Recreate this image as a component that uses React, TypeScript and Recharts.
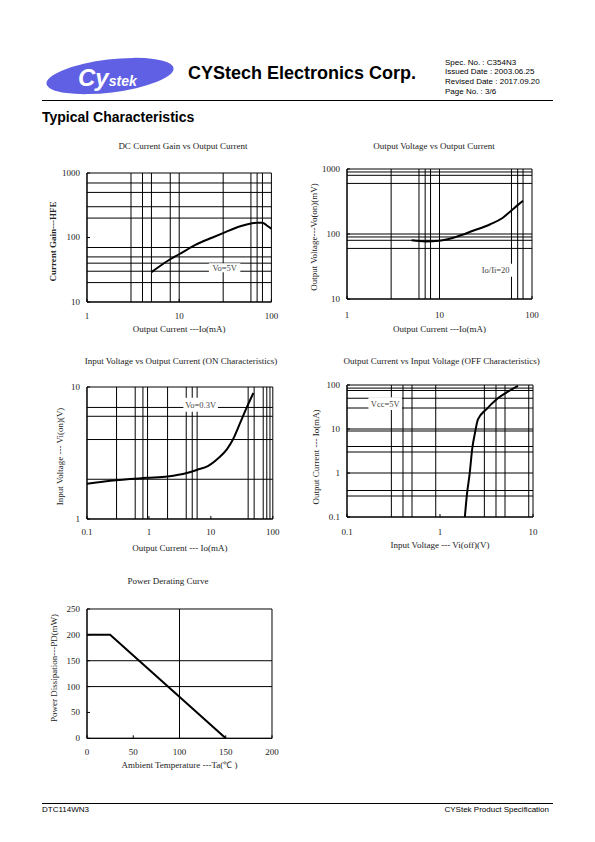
import React from "react";
import { LineChart, Line, XAxis, YAxis, ReferenceLine, ReferenceArea, Label } from "recharts";

const INK = "#000";
const TXT = "#222";
const SERIF = "'Liberation Serif', 'Times New Roman', serif";
const SANS = "'Liberation Sans', Arial, sans-serif";
const FS = 9;

// DC current gain vs output current (Vo=5V)
const hfeIo = [5, 8, 10, 15, 23, 30, 45, 60, 70, 80, 90, 100];
const hfeVal = [29, 46, 55, 77, 100, 117, 148, 165, 170, 170, 152, 137];
const hfeGridX = [3, 4, 5, 8, 10, 30, 60, 70, 80];
const hfeGridY = [20, 30, 40, 50, 70, 200, 300, 500, 700];

// output voltage vs output current (Io/Ii=20)
const voIo = [5, 7, 10, 15, 23, 35, 48, 60, 70, 80];
const voVal = [80, 77, 79, 90, 112, 140, 176, 230, 278, 325];
const voGridX = [3, 6, 7, 8, 10, 60, 70, 80];
const voGridY = [60, 80, 90, 100, 600, 800, 900];

// input voltage vs output current, ON (Vo=0.3V)
const onIo = [0.1, 0.24, 0.93, 2, 4.1, 6, 9.1, 13.3, 18, 22.6, 29.7, 38, 48.6];
const onVi = [1.85, 1.95, 2.05, 2.1, 2.23, 2.36, 2.53, 2.9, 3.35, 3.98, 5.34, 7.0, 9.0];
const onGridX = [0.3, 0.6, 0.8, 0.95, 2, 4, 5, 6, 40, 50, 70, 80, 90];
const onGridY = [2, 4, 6, 7];

// output current vs input voltage, OFF (Vcc=5V)
const offVi = [1.85, 1.95, 2.08, 2.23, 2.36, 2.56, 3.15, 4.04, 5.17, 6.9];
const offIo = [0.1, 0.33, 0.93, 3.8, 7.5, 16.5, 28, 47, 67, 95];
const offGridX = [0.3, 0.4, 0.5, 0.9, 3, 4, 5, 9];
const offGridY = [0.3, 0.4, 1, 3, 4, 9, 10, 30, 50, 75, 85];

// power derating
const pdTa = [0, 25, 150];
const pdVal = [200, 200, 0];
const pdGridX = [100];
const pdGridY = [100, 150];

const zip = (xs: number[], ys: number[]) => xs.map((x, i) => ({ x, y: ys[i] }));

type Note = { text: string; x1: number; x2: number; y1: number; y2: number };

interface PanelProps {
  plot: { x: number; y: number; w: number; h: number };
  data: { x: number; y: number }[];
  log: boolean;
  xDomain: [number, number];
  yDomain: [number, number];
  xTicks: number[];
  yTicks: number[];
  gridX: number[];
  gridY: number[];
  xLabel: string;
  yLabel: string;
  xLabelDy: number;
  yLabelDx: number;
  yLabelDy: number;
  tickDy: number;
  yLabelBold?: boolean;
  note?: Note;
  curve?: "monotone" | "linear";
}

function Panel(p: PanelProps) {
  const W = p.plot.w + 70;
  const H = p.plot.h + 50;
  const margin = { top: 10, right: 10, left: 0, bottom: 0 };
  const scale = p.log ? "log" : "linear";
  const bottomTick = (t: any) => (
    <g>
      <line x1={t.x} x2={t.x} y1={t.y} y2={t.y - 3} stroke={INK} />
      <text x={t.x} y={t.y + p.tickDy} textAnchor="middle" fontSize={FS} fill={TXT} fontFamily={SERIF}>
        {t.payload.value}
      </text>
    </g>
  );
  const leftTick = (t: any) => (
    <g>
      <line x1={t.x} x2={t.x + 3} y1={t.y} y2={t.y} stroke={INK} />
      <text x={t.x - 7} y={t.y + 3} textAnchor="end" fontSize={FS} fill={TXT} fontFamily={SERIF}>
        {t.payload.value}
      </text>
    </g>
  );
  const pos = { position: "absolute" as const, left: p.plot.x - 60, top: p.plot.y - 10 };
  return (
    <>
      <div style={pos}>
        <LineChart width={W} height={H} data={p.data} margin={margin}>
          <XAxis
            dataKey="x"
            type="number"
            scale={scale}
            domain={p.xDomain}
            ticks={p.xTicks}
            allowDataOverflow
            height={40}
            tickSize={0}
            tickMargin={0}
            tickLine={false}
            axisLine={{ stroke: INK }}
            tick={bottomTick}
            interval={0}
          >
            <Label value={p.xLabel} position="center" dy={p.xLabelDy} fontSize={FS} fill={TXT} fontFamily={SERIF} />
          </XAxis>
          <YAxis
            type="number"
            scale={scale}
            domain={p.yDomain}
            ticks={p.yTicks}
            allowDataOverflow
            width={60}
            tickSize={0}
            tickMargin={0}
            tickLine={false}
            axisLine={{ stroke: INK }}
            tick={leftTick}
            interval={0}
          >
            <Label
              value={p.yLabel}
              position="center"
              angle={-90}
              dx={p.yLabelDx}
              dy={p.yLabelDy}
              fontSize={FS}
              fontWeight={p.yLabelBold ? "bold" : "normal"}
              fill={TXT}
              fontFamily={SERIF}
            />
          </YAxis>
          {p.gridX.map((v) => (
            <ReferenceLine key={"gx" + v} x={v} stroke={INK} strokeWidth={1} />
          ))}
          {p.gridY.map((v) => (
            <ReferenceLine key={"gy" + v} y={v} stroke={INK} strokeWidth={1} />
          ))}
          <ReferenceArea
            x1={p.xDomain[0]}
            x2={p.xDomain[1]}
            y1={p.yDomain[0]}
            y2={p.yDomain[1]}
            fill="none"
            stroke={INK}
            strokeWidth={1}
          />
          <Line
            dataKey="y"
            type={p.curve ?? "monotone"}
            stroke={INK}
            strokeWidth={2}
            dot={false}
            isAnimationActive={false}
          />
        </LineChart>
      </div>
      {p.note && (
        // same axes, laid over the panel, so the white note box hides the grid lines under it
        <div style={pos}>
          <LineChart width={W} height={H} data={p.data} margin={margin}>
            <XAxis
              dataKey="x"
              type="number"
              scale={scale}
              domain={p.xDomain}
              allowDataOverflow
              height={40}
              tick={false}
              tickLine={false}
              axisLine={false}
            />
            <YAxis
              type="number"
              scale={scale}
              domain={p.yDomain}
              allowDataOverflow
              width={60}
              tick={false}
              tickLine={false}
              axisLine={false}
            />
            <ReferenceArea
              x1={p.note.x1}
              x2={p.note.x2}
              y1={p.note.y1}
              y2={p.note.y2}
              fill="#fff"
              fillOpacity={1}
              stroke="none"
            >
              <Label value={p.note.text} position="center" fontSize={8.5} fill="#444" fontFamily={SERIF} />
            </ReferenceArea>
          </LineChart>
        </div>
      )}
    </>
  );
}

function Title({ text, cx, cy }: { text: string; cx: number; cy: number }) {
  return (
    <div
      style={{
        position: "absolute",
        left: cx - 150,
        top: cy - 5,
        width: 300,
        textAlign: "center",
        fontFamily: SERIF,
        fontSize: FS,
        lineHeight: "10px",
        color: "#222",
        whiteSpace: "nowrap",
      }}
    >
      {text}
    </div>
  );
}

export default function App() {
  return (
    <div
      style={{
        position: "absolute",
        left: 0,
        top: 0,
        width: 595,
        height: 842,
        background: "#fff",
        overflow: "hidden",
        fontFamily: SERIF,
      }}
    >
      {/* header */}
      <svg style={{ position: "absolute", left: 40, top: 54 }} width={145} height={44}>
        <ellipse cx={70} cy={22} rx={64} ry={16.5} fill="#6060e4" transform="rotate(-7 70 22)" />
        <text x={38} y={32} fill="#fff" fontFamily={SANS} fontWeight="bold" fontStyle="italic">
          <tspan fontSize={24}>Cy</tspan>
          <tspan fontSize={14}>stek</tspan>
        </text>
      </svg>
      <div
        style={{
          position: "absolute",
          left: 188,
          top: 64,
          fontFamily: SANS,
          fontWeight: "bold",
          fontSize: 18,
          lineHeight: "18px",
          whiteSpace: "nowrap",
        }}
      >
        CYStech Electronics Corp.
      </div>
      <div
        style={{
          position: "absolute",
          left: 445,
          top: 57.5,
          fontFamily: SANS,
          fontSize: 8,
          lineHeight: "9.7px",
          whiteSpace: "nowrap",
        }}
      >
        <div>Spec. No. : C354N3</div>
        <div>Issued Date : 2003.06.25</div>
        <div>Revised Date : 2017.09.20</div>
        <div>Page No. : 3/6</div>
      </div>
      <div style={{ position: "absolute", left: 42, top: 99.5, width: 511, height: 1.5, background: "#000" }} />
      <div
        style={{
          position: "absolute",
          left: 42,
          top: 110,
          fontFamily: SANS,
          fontWeight: "bold",
          fontSize: 14,
          lineHeight: "14px",
          whiteSpace: "nowrap",
        }}
      >
        Typical Characteristics
      </div>

      <Title text="DC Current Gain vs Output Current" cx={183} cy={146} />
      <Panel
        plot={{ x: 87.3, y: 173.3, w: 184.4, h: 129 }}
        data={zip(hfeIo, hfeVal)}
        log
        xDomain={[1, 100]}
        yDomain={[10, 1000]}
        xTicks={[1, 10, 100]}
        yTicks={[10, 100, 1000]}
        gridX={hfeGridX}
        gridY={hfeGridY}
        xLabel="Output  Current ---Io(mA)"
        yLabel="Current Gain---HFE"
        yLabelBold
        xLabelDy={7}
        yLabelDx={-4.6}
        yLabelDy={4}
        tickDy={17.3}
        note={{ text: "Vo=5V", x1: 21, x2: 46, y1: 29, y2: 40 }}
      />

      <Title text="Output Voltage vs Output Current" cx={434} cy={146} />
      <Panel
        plot={{ x: 347.3, y: 169.3, w: 185, h: 130 }}
        data={zip(voIo, voVal)}
        log
        xDomain={[1, 100]}
        yDomain={[10, 1000]}
        xTicks={[1, 10, 100]}
        yTicks={[10, 100, 1000]}
        gridX={voGridX}
        gridY={voGridY}
        xLabel="Output Current ---Io(mA)"
        yLabel="Output Voltage---Vo(on)(mV)"
        xLabelDy={10}
        yLabelDx={-3.3}
        yLabelDy={3}
        tickDy={19}
        note={{ text: "Io/Ii=20", x1: 26, x2: 63, y1: 22, y2: 35 }}
      />

      <Title text="Input Voltage vs Output Current (ON Characteristics)" cx={181} cy={360.7} />
      <Panel
        plot={{ x: 86.7, y: 387.3, w: 185.8, h: 132 }}
        data={zip(onIo, onVi)}
        log
        xDomain={[0.1, 100]}
        yDomain={[1, 10]}
        xTicks={[0.1, 1, 10, 100]}
        yTicks={[1, 10]}
        gridX={onGridX}
        gridY={onGridY}
        xLabel="Output Current --- Io(mA)"
        yLabel="Input Voltage --- Vi(on)(V)"
        xLabelDy={8.4}
        yLabelDx={2.6}
        yLabelDy={3.4}
        tickDy={16.3}
        note={{ text: "Vo=0.3V", x1: 3.6, x2: 13, y1: 6.5, y2: 8.3 }}
      />

      <Title text="Output Current vs Input Voltage (OFF Characteristics)" cx={441.7} cy={360.7} />
      <Panel
        plot={{ x: 347.3, y: 385.3, w: 186, h: 132 }}
        data={zip(offVi, offIo)}
        log
        xDomain={[0.1, 10]}
        yDomain={[0.1, 100]}
        xTicks={[0.1, 1, 10]}
        yTicks={[0.1, 1, 10, 100]}
        gridX={offGridX}
        gridY={offGridY}
        xLabel="Input Voltage --- Vi(off)(V)"
        yLabel="Output Current --- Io(mA)"
        xLabelDy={7.7}
        yLabelDx={-1.6}
        yLabelDy={6}
        tickDy={18.3}
        note={{ text: "Vcc=5V", x1: 0.17, x2: 0.39, y1: 27, y2: 53 }}
      />

      <Title text="Power Derating Curve" cx={168} cy={581} />
      <Panel
        plot={{ x: 86.7, y: 609, w: 185, h: 129.3 }}
        data={zip(pdTa, pdVal)}
        log={false}
        xDomain={[0, 200]}
        yDomain={[0, 250]}
        xTicks={[0, 50, 100, 150, 200]}
        yTicks={[0, 50, 100, 150, 200, 250]}
        gridX={pdGridX}
        gridY={pdGridY}
        xLabel="Ambient Temperature ---Ta(℃ )"
        yLabel="Power Dissipation---PD(mW)"
        xLabelDy={6.7}
        yLabelDx={-2.7}
        yLabelDy={-5.7}
        tickDy={17}
        curve="linear"
      />

      {/* footer */}
      <div style={{ position: "absolute", left: 42, top: 803, width: 511, height: 1, background: "#000" }} />
      <div
        style={{
          position: "absolute",
          left: 42,
          top: 804.5,
          fontFamily: SANS,
          fontSize: 8,
          lineHeight: "9.6px",
        }}
      >
        DTC114WN3
      </div>
      <div
        style={{
          position: "absolute",
          right: 595 - 549,
          top: 804.5,
          fontFamily: SANS,
          fontSize: 8,
          lineHeight: "9.6px",
          whiteSpace: "nowrap",
        }}
      >
        CYStek Product Specification
      </div>
    </div>
  );
}
